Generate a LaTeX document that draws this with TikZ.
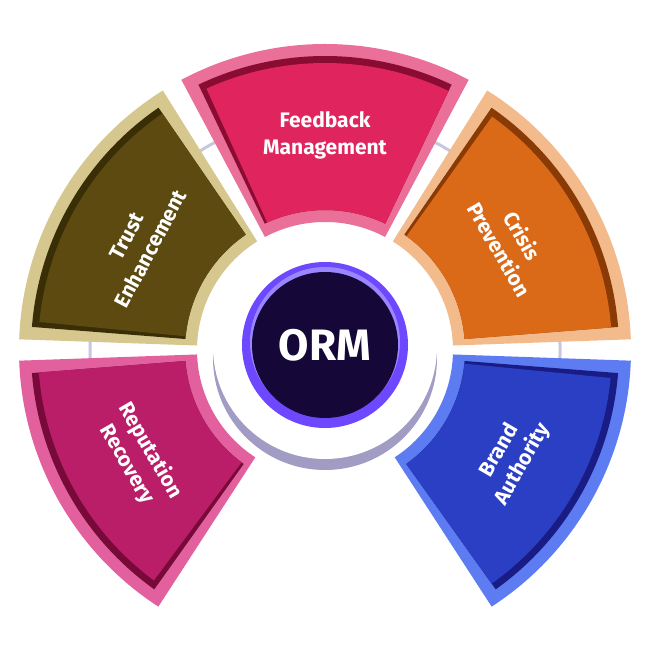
\documentclass[tikz,border=0pt]{standalone}
\usepackage{fontspec}
\setmainfont{Fira Sans}
\definecolor{tB}{HTML}{D6C78E}\definecolor{tD}{HTML}{3A2E06}\definecolor{tM}{HTML}{5C4A10}
\definecolor{fB}{HTML}{EB7099}\definecolor{fD}{HTML}{8A0C33}\definecolor{fM}{HTML}{E0245E}
\definecolor{cB}{HTML}{F3BB8C}\definecolor{cD}{HTML}{8A3A05}\definecolor{cM}{HTML}{DA6A18}
\definecolor{bB}{HTML}{5D7CF2}\definecolor{bD}{HTML}{1A1C86}\definecolor{bM}{HTML}{2A3FC4}
\definecolor{rB}{HTML}{E2609E}\definecolor{rD}{HTML}{780A3A}\definecolor{rM}{HTML}{BA1E68}
\definecolor{ring}{HTML}{6D48FF}\definecolor{core}{HTML}{150838}\definecolor{hl}{HTML}{9A86FF}
\definecolor{shd}{HTML}{A19CC4}\definecolor{lav}{HTML}{C9C6E2}
\begin{document}
\begin{tikzpicture}[x=1pt,y=1pt,
  lbl/.style={text=white,font=\bfseries\fontsize{21}{27}\selectfont,align=center}]
\useasboundingbox (0,0) rectangle (650,650);
\fill[white] (0,0) rectangle (650,650);
\newcommand\seg[5]{%
 \fill[#3] (#1:128pt) arc[start angle=#1,end angle=#2,radius=128pt] -- (#2:306pt) arc[start angle=#2,end angle=#1,radius=306pt] -- cycle;
 \fill[#4] ({#1+2.5}:140pt) arc[start angle={#1+2.5},end angle={#2-2.5},radius=140pt] -- ({#2-2.5}:294pt) arc[start angle={#2-2.5},end angle={#1+2.5},radius=294pt] -- cycle;
 \fill[#5] ({#1+2.5}:140pt) arc[start angle={#1+2.5},end angle={#2-3.6},radius=140pt] -- ({#2-3.6}:287pt) arc[start angle={#2-3.6},end angle={#1+2.5},radius=287pt] -- cycle;}
\begin{scope}[shift={(325,300)}]
\draw[line width=3pt,color=lav] (-20:235pt) arc[start angle=-20,end angle=200,radius=235pt];
\seg{122}{178}{tB}{tD}{tM}
\seg{62}{118}{fB}{fD}{fM}
\seg{2}{58}{cB}{cD}{cM}
\seg{-57}{-2}{bB}{bD}{bM}
\seg{182}{237}{rB}{rD}{rM}
\fill[shd] (0,-8) circle[radius=112pt];
\fill[white] (0,3) circle[radius=112pt];
\node[circle,fill=ring,minimum size=166pt] (c) at (0,5) {};
\node[circle,fill=hl,minimum size=150pt] at (0,8) {};
\node[circle,fill=core,minimum size=146pt] (orm) at (0,5) {};
\node[text=white,font=\bfseries\fontsize{44}{44}\selectfont] at (0,5) {ORM};
\node[lbl,rotate=62] (t) at (150:215pt) {Trust\\Enhancement};
\node[lbl] (f) at (90:215pt) {Feedback\\Management};
\node[lbl,rotate=-60] (cr) at (30:215pt) {Crisis\\Prevention};
\node[lbl,rotate=60] (b) at (-30:215pt) {Brand\\Authority};
\node[lbl,rotate=-60] (r) at (210:215pt) {Reputation\\Recovery};
\end{scope}
\end{tikzpicture}
\end{document}
